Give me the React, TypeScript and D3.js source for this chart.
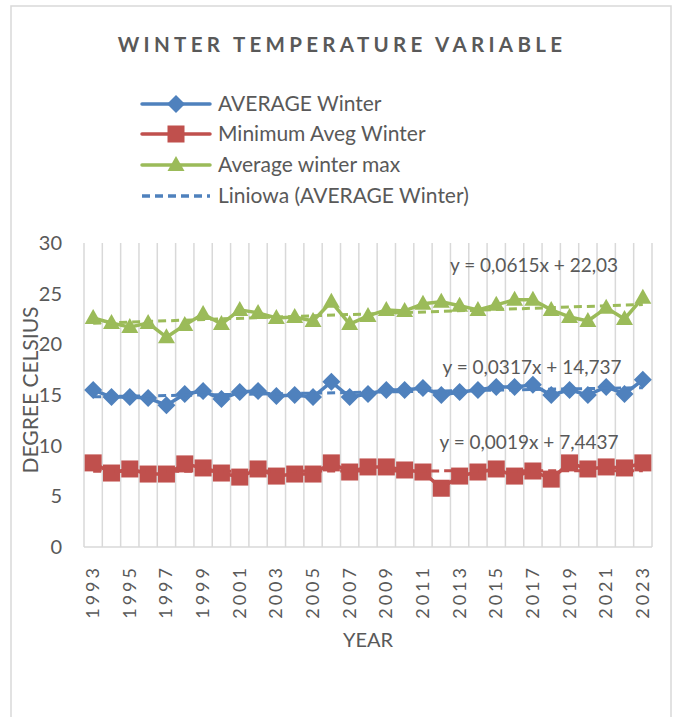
import React from "react";
import * as d3 from "d3";

const years = d3.range(1993, 2024).map(String);
const yearLabels = ["1993","1995","1997","1999","2001","2003","2005","2007","2009","2011","2013","2015","2017","2019","2021","2023"];
const avgWinter = [15.5,14.8,14.8,14.7,14.0,15.1,15.4,14.6,15.3,15.4,14.9,15.0,14.8,16.3,14.8,15.1,15.5,15.5,15.7,15.0,15.3,15.5,15.8,15.8,16.0,15.0,15.5,15.0,15.8,15.1,16.5];
const minWinter = [8.3,7.3,7.7,7.2,7.2,8.2,7.8,7.3,6.9,7.7,7.0,7.2,7.2,8.3,7.4,7.9,7.9,7.6,7.4,5.8,7.0,7.4,7.7,7.0,7.5,6.7,8.3,7.7,7.9,7.8,8.3];
const maxWinter = [22.6,22.1,21.7,22.1,20.7,21.9,23.0,22.0,23.4,23.1,22.6,22.7,22.3,24.2,22.0,22.8,23.4,23.3,24.0,24.2,23.8,23.4,23.9,24.4,24.4,23.4,22.7,22.3,23.6,22.5,24.6];
const yTicks = [0,5,10,15,20,25,30];
const seriesNames = ["AVERAGE Winter","Minimum Aveg Winter","Average winter max","Liniowa (AVERAGE Winter)"];
const equations = ["y = 0,0317x + 14,737","y = 0,0019x + 7,4437","y = 0,0615x + 22,03"];

const BLUE = "#4F81BD";
const RED = "#C0504D";
const GREEN = "#9BBB59";
const TEXT = "#595959";
const GRID = "#D9D9D9";
const FONT = "Lato, 'Open Sans', sans-serif";

function fit(vals: number[]) {
  const n = vals.length;
  const xs = vals.map((_, i) => i + 1);
  const mx = d3.mean(xs)!;
  const my = d3.mean(vals)!;
  let sxy = 0, sxx = 0;
  xs.forEach((x, i) => { sxy += (x - mx) * (vals[i] - my); sxx += (x - mx) * (x - mx); });
  const b = sxy / sxx;
  const a = my - b * mx;
  return [a + b * 1, a + b * n];
}

function Marker({ kind, x, y, color }: { kind: string; x: number; y: number; color: string }) {
  if (kind === "diamond") {
    const r = 9;
    return <path d={`M${x},${y - r}L${x + r},${y}L${x},${y + r}L${x - r},${y}Z`} fill={color} />;
  }
  if (kind === "square") {
    const s = 17;
    return <rect x={x - s / 2} y={y - s / 2} width={s} height={s} fill={color} />;
  }
  const w = 17, h = 15;
  return <path d={`M${x},${y - h * 0.6}L${x + w / 2},${y + h * 0.4}L${x - w / 2},${y + h * 0.4}Z`} fill={color} />;
}

export default function App() {
  const W = 678, H = 717;
  const x = d3.scaleBand<string>().domain(years).range([84, 652]).padding(0);
  const y = d3.scaleLinear().domain([0, 30]).range([547, 243]);
  const cx = (yr: string) => x(yr)! + x.bandwidth() / 2;
  const line = d3.line<number>().x((_, i) => cx(years[i])).y((d) => y(d));

  const series = [
    { vals: maxWinter, color: GREEN, kind: "triangle" },
    { vals: avgWinter, color: BLUE, kind: "diamond" },
    { vals: minWinter, color: RED, kind: "square" },
  ];
  const trends = [
    { vals: maxWinter, color: GREEN },
    { vals: avgWinter, color: BLUE },
    { vals: minWinter, color: RED },
  ];
  const boundaries = years.map((yr) => x(yr)!).concat([652]);

  const legend = [
    { name: seriesNames[0], color: BLUE, kind: "diamond", dash: false },
    { name: seriesNames[1], color: RED, kind: "square", dash: false },
    { name: seriesNames[2], color: GREEN, kind: "triangle", dash: false },
    { name: seriesNames[3], color: BLUE, kind: "", dash: true },
  ];
  const legendY = [104, 134, 165, 196];

  return (
    <svg width={W} height={H} style={{ position: "absolute", left: 0, top: 0, background: "#fff" }} fontFamily={FONT}>
      <rect x={11} y={6} width={660} height={730} fill="#fff" stroke={GRID} strokeWidth={1.5} />
      <text x={342} y={52} textAnchor="middle" fontSize={20.5} fontWeight={700} fill={TEXT} letterSpacing={4.3}>
        WINTER TEMPERATURE VARIABLE
      </text>
      {legend.map((l, i) => (
        <g key={l.name}>
          <line x1={142} x2={210} y1={legendY[i]} y2={legendY[i]} stroke={l.color} strokeWidth={3.5}
            strokeDasharray={l.dash ? "8,5" : undefined} strokeLinecap={l.dash ? "butt" : "round"} />
          {l.kind && <Marker kind={l.kind} x={176} y={legendY[i]} color={l.color} />}
          <text x={218} y={legendY[i] + 7} fontSize={21} fill={TEXT}>{l.name}</text>
        </g>
      ))}
      {boundaries.map((bx, i) => (
        <line key={i} x1={bx} x2={bx} y1={243} y2={547} stroke={GRID} strokeWidth={1.5} />
      ))}
      <line x1={84} x2={652} y1={547} y2={547} stroke={GRID} strokeWidth={1.5} />
      {yTicks.map((t) => (
        <text key={t} x={62} y={y(t) + 7} textAnchor="end" fontSize={20} fill={TEXT}>{t}</text>
      ))}
      {yearLabels.map((yr) => (
        <text key={yr} transform={`translate(${cx(yr) + 6},${565}) rotate(-90)`} textAnchor="end" fontSize={18} fill={TEXT} letterSpacing={3}>
          {yr}
        </text>
      ))}
      <text x={368} y={647} textAnchor="middle" fontSize={20} fill={TEXT}>YEAR</text>
      <text transform={`translate(38,390) rotate(-90)`} textAnchor="middle" fontSize={21} fill={TEXT}>DEGREE CELSIUS</text>
      {series.map((s) => (
        <g key={s.color}>
          <path d={line(s.vals)!} fill="none" stroke={s.color} strokeWidth={3.5} strokeLinejoin="round" strokeLinecap="round" />
          {s.vals.map((v, i) => <Marker key={i} kind={s.kind} x={cx(years[i])} y={y(v)} color={s.color} />)}
        </g>
      ))}
      {trends.map((t) => {
        const [a, b] = fit(t.vals);
        return (
          <line key={t.color} x1={cx(years[0])} x2={cx(years[years.length - 1])} y1={y(a)} y2={y(b)}
            stroke={t.color} strokeWidth={3} strokeDasharray="8,5" />
        );
      })}
      <text x={534} y={272} textAnchor="middle" fontSize={19} fill={TEXT}>{equations[2]}</text>
      <text x={532} y={374} textAnchor="middle" fontSize={19} fill={TEXT}>{equations[0]}</text>
      <text x={529} y={449} textAnchor="middle" fontSize={19} fill={TEXT}>{equations[1]}</text>
    </svg>
  );
}
